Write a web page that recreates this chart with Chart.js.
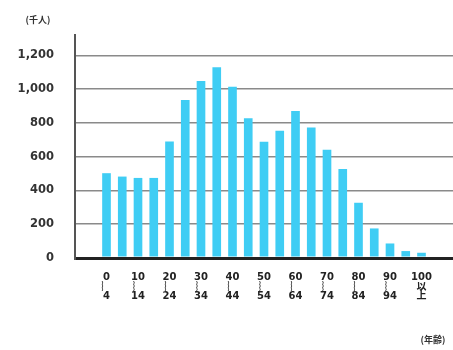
<!DOCTYPE html>
<html>
<head>
<meta charset="utf-8">
<script src="https://cdn.jsdelivr.net/npm/chart.js@4"></script>
<style>
  html, body { margin: 0; padding: 0; background: #fff; }
  #wrap { width: 453px; height: 350px; }
</style>
</head>
<body>
<div id="wrap"><canvas id="popChart"></canvas></div>
<script>
// 年齢階級 (5歳刻み)
const ageGroups = ['0~4', '5~9', '10~14', '15~19', '20~24', '25~29', '30~34', '35~39',
  '40~44', '45~49', '50~54', '55~59', '60~64', '65~69', '70~74', '75~79',
  '80~84', '85~89', '90~94', '95~99', '100以上'];

// 人口 (千人)
const population = [502, 482, 474, 474, 690, 935, 1047, 1129, 1013, 827, 688, 753,
  870, 772, 641, 527, 327, 175, 86, 41, 31];

// x軸ラベル (縦書き風)
const ageTickLabels = [['0', '︴', '4'], '', ['10', '︴', '14'], '', ['20', '︴', '24'], '',
  ['30', '︴', '34'], '', ['40', '︴', '44'], '', ['50', '︴', '54'], '', ['60', '︴', '64'], '',
  ['70', '︴', '74'], '', ['80', '︴', '84'], '', ['90', '︴', '94'], '', ['100', '以', '上']];

const yTicks = [0, 200, 400, 600, 800, 1000, 1200];

// 左右に空きカテゴリを2つずつ入れる
const pad = ['', ''];
const labels = pad.concat(ageGroups, pad);
const values = [null, null].concat(population, [null, null]);
const tickText = pad.concat(ageTickLabels, pad);

const FONT = '"DejaVu Sans", "Noto Sans CJK JP", sans-serif';

// 単位ラベル
const unitLabels = {
    id: 'unitLabels',
    afterDraw(chart) {
        const ctx = chart.ctx;
        ctx.save();
        ctx.fillStyle = '#333';
        ctx.font = 'bold 9px "Noto Sans CJK JP", sans-serif';
        ctx.textBaseline = 'middle';
        ctx.textAlign = 'center';
        ctx.fillText('(千人)', 38, 20);
        ctx.fillText('(年齢)', 433, 340);
        ctx.restore();
    }
};

new Chart(document.getElementById('popChart'), {
    type: 'bar',
    data: {
        labels: labels,
        datasets: [{
            data: values,
            backgroundColor: '#3fcdf4',
            barPercentage: 0.55,
            categoryPercentage: 1.0,
        }],
    },
    options: {
        responsive: true,
        maintainAspectRatio: false,
        animation: false,
        layout: { padding: { top: 35, right: 0, left: 0, bottom: 0 } },
        plugins: {
            legend: { display: false },
            tooltip: { enabled: false },
        },
        scales: {
            x: {
                offset: false,
                grid: { display: false, drawTicks: false },
                border: { display: true, color: '#222', width: 3 },
                afterFit: (scale) => {
                    scale.height = 92;
                    scale.paddingLeft = 0;
                    scale.paddingRight = 0;
                },
                ticks: {
                    autoSkip: false,
                    maxRotation: 0,
                    padding: 15,
                    color: '#222',
                    font: { family: FONT, size: 10, weight: 'bold', lineHeight: 0.95 },
                    callback: (v, i) => tickText[i],
                },
            },
            y: {
                min: 0,
                max: 1320,
                afterBuildTicks: (scale) => { scale.ticks = yTicks.map(v => ({ value: v })); },
                afterFit: (scale) => { scale.width = 75; },
                grid: {
                    drawTicks: false,
                    color: (c) => c.tick && c.tick.value === 0 ? '#222' : '#8a8a8a',
                    lineWidth: (c) => c.tick && c.tick.value === 0 ? 3 : 1.5,
                },
                border: { display: true, color: '#555', width: 2 },
                ticks: {
                    padding: 21,
                    color: '#333',
                    font: { family: FONT, size: 11.5, weight: 'bold' },
                    callback: (v) => v.toLocaleString('en-US'),
                },
            },
        },
    },
    plugins: [unitLabels],
});
</script>
</body>
</html>
